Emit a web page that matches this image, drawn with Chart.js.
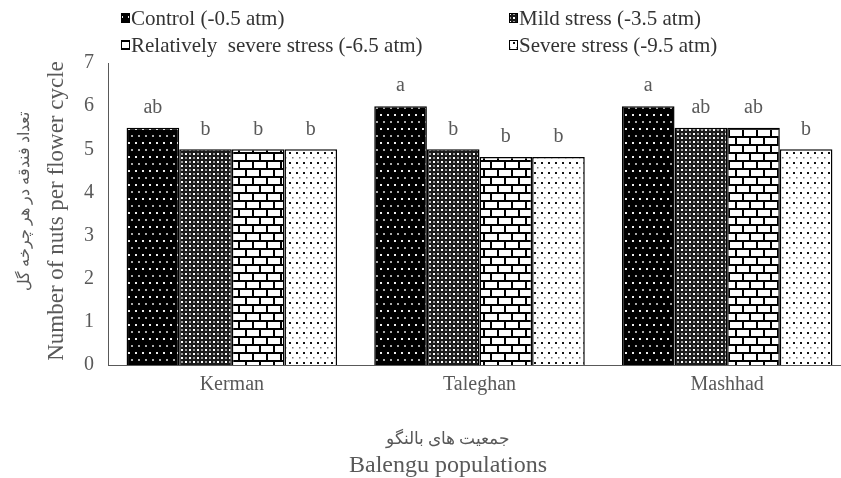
<!DOCTYPE html>
<html>
<head>
<meta charset="utf-8">
<script src="https://cdn.jsdelivr.net/npm/chart.js"></script>
<style>
  html, body { margin: 0; padding: 0; background: #fff; overflow: hidden; }
  #wrap { position: relative; width: 851px; height: 478px; }
</style>
</head>
<body>
<div id="wrap"><canvas id="myChart"></canvas></div>
<script>
// data
const populations = ['Kerman', 'Taleghan', 'Mashhad'];
const treatments = ['Control (-0.5 atm)', 'Mild stress (-3.5 atm)', 'Relatively  severe stress (-6.5 atm)', 'Severe stress (-9.5 atm)'];
const controlValues = [5.5, 6, 6];
const mildValues = [5, 5, 5.5];
const relSevereValues = [5, 4.82, 5.5];
const severeValues = [5, 4.82, 5];
const controlLetters = ['ab', 'a', 'a'];
const mildLetters = ['b', 'b', 'ab'];
const relSevereLetters = ['b', 'b', 'ab'];
const severeLetters = ['b', 'b', 'b'];
const yTicks = [0, 1, 2, 3, 4, 5, 6, 7];

const textGrey = '#595959';
const serif = '"Liberation Serif", "DejaVu Serif", serif';

// pattern fills like the Excel ones
function makePattern(kind) {
  const c = document.createElement('canvas');
  const g = c.getContext('2d');
  if (kind === 'dotsOnBlack') {
    c.width = 14; c.height = 14;
    g.fillStyle = '#000'; g.fillRect(0, 0, 14, 14);
    g.fillStyle = '#eee';
    g.fillRect(2, 2, 2, 2); g.fillRect(9, 2, 2, 2);
    g.fillStyle = '#aaa';
    g.fillRect(5, 9, 2, 2); g.fillRect(12, 9, 2, 2);
  } else if (kind === 'mesh') {
    c.width = 8; c.height = 8;
    g.fillStyle = '#1a1a1a'; g.fillRect(0, 0, 8, 8);
    g.fillStyle = '#fff';
    g.fillRect(1, 1, 2, 2); g.fillRect(5, 5, 2, 2);
    g.fillStyle = '#999';
    g.fillRect(5, 1, 2, 2); g.fillRect(1, 5, 2, 2);
  } else if (kind === 'brick') {
    c.width = 14; c.height = 16;
    g.fillStyle = '#fff'; g.fillRect(0, 0, 14, 16);
    g.fillStyle = '#000';
    g.fillRect(0, 0, 14, 2); g.fillRect(0, 8, 14, 2);
    g.fillRect(0, 0, 2, 8); g.fillRect(7, 8, 2, 8);
  } else {
    c.width = 14; c.height = 10;
    g.fillStyle = '#fff'; g.fillRect(0, 0, 14, 10);
    g.fillStyle = '#111';
    g.fillRect(2, 2, 2, 2); g.fillRect(9, 2, 2, 2);
    g.fillStyle = '#777';
    g.fillRect(5, 7, 1.5, 1.5); g.fillRect(12, 7, 1.5, 1.5);
  }
  return g.createPattern(c, 'repeat');
}

const fills = [makePattern('dotsOnBlack'), makePattern('mesh'), makePattern('brick'), makePattern('sparse')];
const seriesValues = [controlValues, mildValues, relSevereValues, severeValues];
const seriesLetters = [controlLetters, mildLetters, relSevereLetters, severeLetters];

// letters, legend and axis titles drawn by hand
const extrasPlugin = {
  id: 'extras',
  afterDatasetsDraw(chart) {
    const ctx = chart.ctx;
    ctx.save();
    ctx.fillStyle = textGrey;
    ctx.font = '20px ' + serif;
    ctx.textAlign = 'center';
    ctx.textBaseline = 'bottom';
    chart.data.datasets.forEach((ds, i) => {
      chart.getDatasetMeta(i).data.forEach((bar, j) => {
        ctx.fillText(seriesLetters[i][j], bar.x, bar.y - 10);
      });
    });
    ctx.restore();
  },
  afterDraw(chart) {
    const ctx = chart.ctx;
    ctx.save();
    // legend, two columns
    const spots = [[121, 18], [509, 18], [121, 45], [509, 45]];
    ctx.font = '21px ' + serif;
    ctx.textBaseline = 'middle';
    ctx.textAlign = 'left';
    treatments.forEach((t, i) => {
      const [x, y] = spots[i];
      ctx.fillStyle = fills[i];
      ctx.fillRect(x, y - 5, 9, 10);
      ctx.strokeStyle = '#000';
      ctx.lineWidth = 1;
      ctx.strokeRect(x + 0.5, y - 4.5, 8, 9);
      ctx.fillStyle = '#333';
      ctx.fillText(t, x + 10, y + 1);
    });
    // y title
    ctx.fillStyle = textGrey;
    ctx.textAlign = 'center';
    ctx.save();
    ctx.translate(57, 211);
    ctx.rotate(-Math.PI / 2);
    ctx.font = '23px ' + serif;
    ctx.fillText('Number of nuts per flower cycle', 0, 0);
    ctx.restore();
    ctx.save();
    ctx.translate(25, 201);
    ctx.rotate(-Math.PI / 2);
    ctx.font = '16px ' + serif;
    ctx.fillText('تعداد فندقه در هر چرخه گل', 0, 0);
    ctx.restore();
    // x title
    ctx.font = '17px ' + serif;
    ctx.fillText('جمعیت های بالنگو', 448, 440);
    ctx.font = '24px ' + serif;
    ctx.fillText('Balengu populations', 448, 466);
    ctx.restore();
  }
};

new Chart(document.getElementById('myChart'), {
  type: 'bar',
  data: {
    labels: populations,
    datasets: treatments.map((t, i) => ({
      label: t,
      data: seriesValues[i],
      backgroundColor: fills[i],
      borderColor: '#000',
      borderWidth: 1.5,
      categoryPercentage: 0.85,
      barPercentage: 1.0
    }))
  },
  options: {
    responsive: true,
    maintainAspectRatio: false,
    animation: false,
    layout: { padding: { top: 63, left: 0, right: 0, bottom: 0 } },
    plugins: {
      legend: { display: false },
      tooltip: { enabled: false }
    },
    scales: {
      x: {
        grid: { display: false, drawTicks: false },
        border: { display: true, color: '#595959', width: 1 },
        ticks: { color: textGrey, font: { family: serif, size: 20 }, padding: 8 },
        afterFit(scale) { scale.height = 113; }
      },
      y: {
        min: 0,
        max: 7,
        afterBuildTicks(scale) { scale.ticks = yTicks.map(v => ({ value: v })); },
        grid: { display: false, drawTicks: false },
        border: { display: true, color: '#595959', width: 1 },
        ticks: { color: textGrey, font: { family: serif, size: 20 }, padding: 14 },
        afterFit(scale) { scale.width = 108; }
      }
    }
  },
  plugins: [extrasPlugin]
});
</script>
</body>
</html>
